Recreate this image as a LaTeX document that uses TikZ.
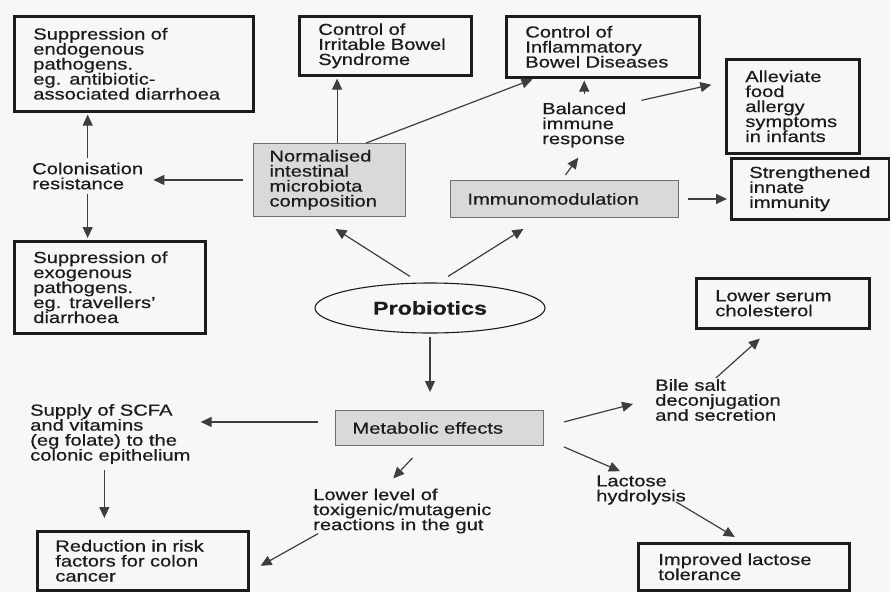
\documentclass[tikz,border=0pt]{standalone}
\usepackage{fontspec}
\setmainfont[FakeStretch=1.26,FakeBold=0.6]{Liberation Sans}
\usetikzlibrary{shapes.geometric,arrows.meta,calc}
\definecolor{ink}{HTML}{1C1C1C}
\definecolor{grayfill}{HTML}{D9D9D9}
\definecolor{grayedge}{HTML}{707070}
\definecolor{paper}{HTML}{F7F7F7}
\begin{document}
\begin{tikzpicture}[x=1pt,y=-1pt,
  txt/.style={font=\fontsize{16}{15}\selectfont, text=ink, align=left, inner sep=4pt, anchor=west},
  outbox/.style={draw=ink, line width=2.6pt, anchor=north west, inner ysep=0pt, align=left,
    font=\fontsize{16}{15}\selectfont, text=ink},
  graybox/.style={draw=grayedge, line width=0.9pt, fill=grayfill, anchor=north west, inner ysep=0pt,
    align=left, font=\fontsize{16}{15}\selectfont, text=ink},
  arr/.style={-{Triangle[length=11pt,width=10pt]}, line width=1.2pt, draw=ink!85, shorten >=2pt}
]
\fill[paper] (0,0) rectangle (890,592);
\useasboundingbox (0,0) rectangle (890,592);

% outcome boxes
\node[outbox, minimum width=239pt, minimum height=95pt, inner xsep=19pt, text width=201pt] (endo) at (13,15)
  {Suppression of\\endogenous\\pathogens.\\eg. antibiotic-\\associated diarrhoea};
\node[outbox, minimum width=172pt, minimum height=59pt, inner xsep=19pt, text width=134pt] (ibs) at (298,15)
  {Control of\\Irritable Bowel\\Syndrome};
\node[outbox, minimum width=193pt, minimum height=61pt, inner xsep=19pt, text width=155pt] (ibd) at (505,15)
  {Control of\\Inflammatory\\Bowel Diseases};
\node[outbox, minimum width=133pt, minimum height=94pt, inner xsep=19pt, text width=95pt] (allev) at (725,58)
  {Alleviate\\food\\allergy\\symptoms\\in infants};
\node[outbox, minimum width=158pt, minimum height=61pt, inner xsep=18pt, text width=122pt] (stren) at (730,157)
  {Strengthened\\innate\\immunity};
\node[outbox, minimum width=191pt, minimum height=92pt, inner xsep=19pt, text width=153pt] (exo) at (13,240)
  {Suppression of\\exogenous\\pathogens.\\eg. travellers'\\diarrhoea};
\node[outbox, minimum width=211pt, minimum height=59pt, inner xsep=18pt, text width=175pt] (reduc) at (36,530)
  {Reduction in risk\\factors for colon\\cancer};
\node[outbox, minimum width=173pt, minimum height=50pt, inner xsep=19pt, text width=135pt] (serum) at (695,277)
  {Lower serum\\cholesterol};
\node[outbox, minimum width=211pt, minimum height=47pt, inner xsep=20pt, text width=171pt] (improved) at (637,542)
  {Improved lactose\\tolerance};

% gray boxes
\node[graybox, minimum width=152pt, minimum height=73pt, inner xsep=16pt, text width=120pt] (norm) at (253,143)
  {Normalised\\intestinal\\microbiota\\composition};
\node[graybox, minimum width=228pt, minimum height=37pt, inner xsep=17pt, text width=194pt] (immuno) at (450,180)
  {Immunomodulation};
\node[graybox, minimum width=208pt, minimum height=35pt, inner xsep=17pt, text width=174pt] (metab) at (335,410)
  {Metabolic effects};

% probiotics
\node[ellipse, draw=ink, line width=1.1pt, minimum width=230pt, minimum height=50pt, inner sep=0pt,
  font=\fontsize{18.5}{20}\selectfont\bfseries, text=ink] (prob) at (430,308) {Probiotics};

% plain texts
\node[txt] (colon) at (28,176) {Colonisation\\resistance};
\node[txt] (bal) at (538,125) {Balanced\\immune\\response};
\node[txt] (supply) at (26,434) {Supply of SCFA\\and vitamins\\(eg folate) to the\\colonic epithelium};
\node[txt] (lower) at (309,511) {Lower level of\\toxigenic/mutagenic\\reactions in the gut};
\node[txt] (bile) at (651,400) {Bile salt\\deconjugation\\and secretion};
\node[txt] (lact) at (592,490) {Lactose\\hydrolysis};

% helper coordinates
\coordinate (n1) at ($(norm.north west)!0.55!(norm.north east)$);
\coordinate (m1) at ($(metab.west)+(-17,-6)$);
\coordinate (s1) at ($(supply.south)+(-6,0)$);

% connectors
\draw[arr] (colon.north) -- (colon.north |- endo.south);
\draw[arr] (colon.south) -- (colon.south |- exo.north);
\draw[arr, shorten <=10pt, shorten >=6pt] (norm.west) -- (norm.west -| colon.east);
\draw[arr] (n1) -- (n1 |- ibs.south);
\draw[arr] ($(norm.north west)!0.74!(norm.north east)$) -- ($(ibd.south west)!0.15!(ibd.south east)$);
\draw[arr, shorten <=4pt] (bal.north) -- (bal.north |- ibd.south);
\draw[arr, shorten >=14pt] ($(bal.north east)+(11,2)$) -- (allev.160);
\draw[arr, shorten >=0pt] ($(immuno.north)+(1,-5)$) -- ($(bal.south)+(-6,6)$);
\draw[arr, shorten <=9pt, shorten >=3pt] (immuno.east) -- (immuno.east -| stren.west);
\draw[arr, shorten >=0pt] ($(prob.north)+(-20,-6)$) -- ($(norm.south)+(6,12)$);
\draw[arr, shorten >=0pt] ($(prob.north)+(18,-6)$) -- ($(immuno.south)+(-41,11)$);
\draw[arr, shorten <=3pt, shorten >=18pt] (prob.south) -- (prob.south |- metab.north);
\draw[arr, shorten >=6pt] (m1) -- (m1 -| supply.east);
\draw[arr, shorten <=2pt, shorten >=12pt] (s1) -- (s1 |- reduc.north);
\draw[arr, shorten >=0pt] ($(metab.south)+(-27,12)$) -- ($(lower.north)+(-9,-6)$);
\draw[arr, shorten >=0pt] ($(lower.south west)+(9,-4)$) -- ($(reduc.east)+(11,5)$);
\draw[arr, shorten >=0pt] ($(metab.east)+(20,-6)$) -- ($(bile.west)+(-18,4)$);
\draw[arr, shorten >=0pt] ($(bile.north)+(-2,3)$) -- ($(serum.south)+(-23,9)$);
\draw[arr, shorten >=0pt] ($(metab.south east)+(20,1)$) -- ($(lact.north west)+(28,0)$);
\draw[arr, shorten >=0pt] ($(lact.south)+(35,-7)$) -- ($(improved.north)+(-9,-5)$);
\end{tikzpicture}
\end{document}
